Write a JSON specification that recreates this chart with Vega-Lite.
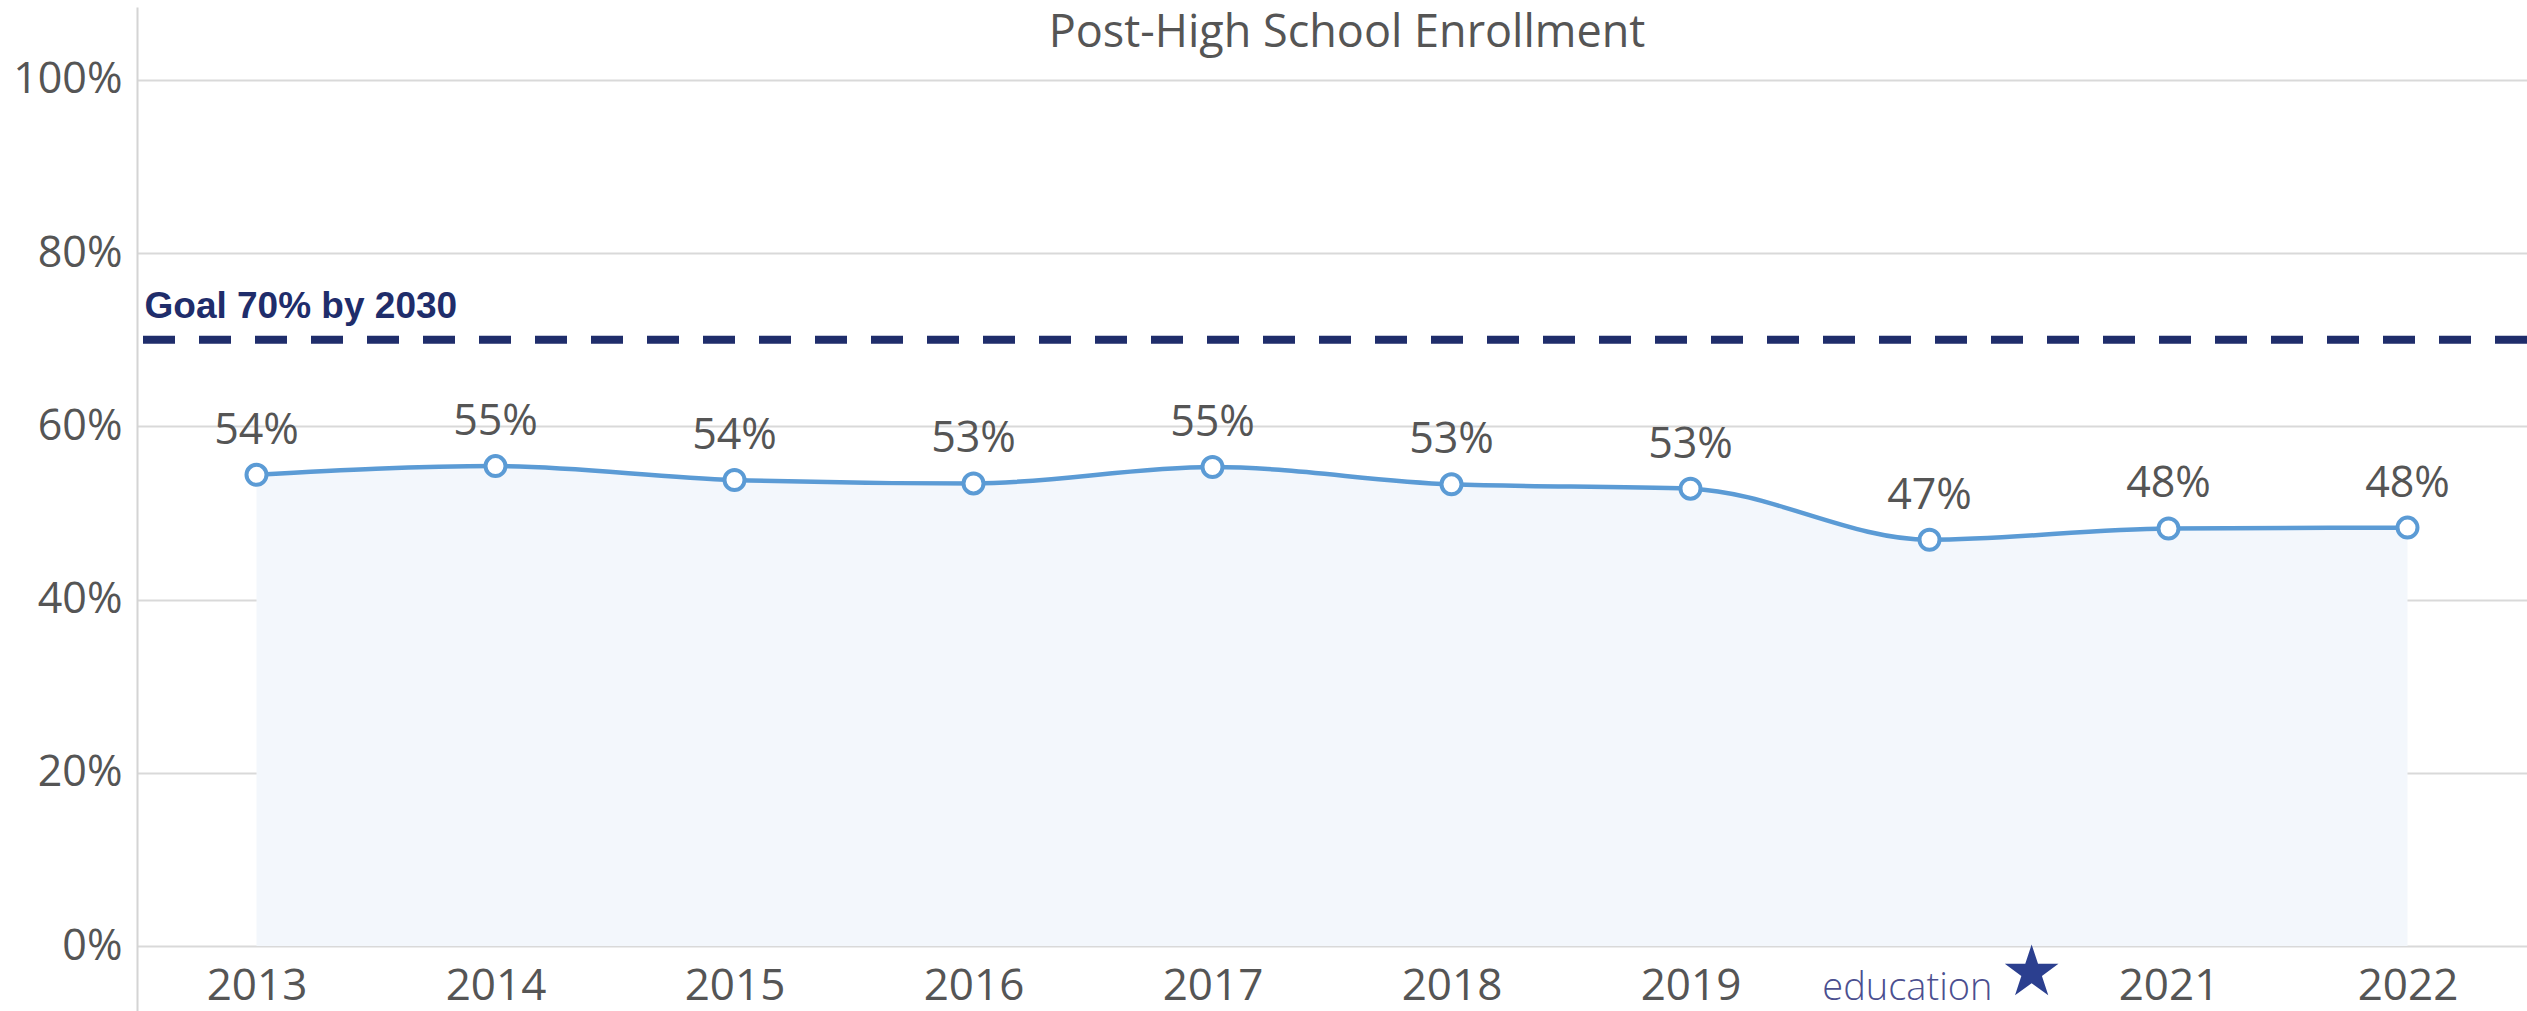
{
  "$schema": "https://vega.github.io/schema/vega-lite/v6.json",
  "width": 2390,
  "height": 1004,
  "autosize": {"type": "none"},
  "padding": {"left": 137, "top": 7, "right": 0, "bottom": 0},
  "background": "white",
  "config": {"view": {"stroke": null}, "font": "Open Sans"},
  "data": {
    "values": [
      {"year": "2013", "value": 0.544},
      {"year": "2014", "value": 0.554},
      {"year": "2015", "value": 0.538},
      {"year": "2016", "value": 0.534},
      {"year": "2017", "value": 0.553},
      {"year": "2018", "value": 0.533},
      {"year": "2019", "value": 0.528},
      {"year": "2020", "value": 0.469},
      {"year": "2021", "value": 0.482},
      {"year": "2022", "value": 0.483}
    ]
  },
  "layer": [
    {
      "mark": {"type": "area", "interpolate": "monotone", "color": "#f3f7fc", "opacity": 1},
      "encoding": {
        "x": {
          "field": "year", "type": "ordinal",
          "scale": {"type": "point", "padding": 0.5},
          "axis": {
            "orient": "bottom", "offset": -65, "domain": false, "ticks": false, "grid": false,
            "labelAngle": 0, "labelFontSize": 44, "labelColor": "#555555", "labelFont": "Open Sans",
            "labelPadding": 18, "title": null,
            "labelExpr": "datum.label == '2020' ? '' : datum.label"
          }
        },
        "y": {
          "field": "value", "type": "quantitative",
          "scale": {"domain": [-0.075, 1.084], "nice": false, "zero": false},
          "axis": {
            "values": [0, 0.2, 0.4, 0.6, 0.8, 1.0], "format": ".0%",
            "grid": true, "gridColor": "#d9d9d9", "gridWidth": 2,
            "domain": true, "domainColor": "#d4d4d4", "domainWidth": 2,
            "ticks": false, "labelPadding": 15, "labelFontSize": 43,
            "labelColor": "#555555", "labelFont": "Open Sans", "title": null
          }
        },
        "y2": {"datum": 0}
      }
    },
    {
      "data": {"values": [{"title": "Post-High School Enrollment"}]},
      "mark": {"type": "text", "font": "Open Sans", "fontSize": 45, "color": "#555555", "align": "center", "baseline": "alphabetic",
        "x": {"expr": "width / 2 + 15"}, "y": 40},
      "encoding": {"text": {"field": "title"}}
    },
    {
      "data": {"values": [{"goal": 0.7, "label": "Goal 70% by 2030"}]},
      "layer": [
        {
          "mark": {"type": "rule", "color": "#1f2d6b", "strokeWidth": 8, "strokeDash": [32, 24]},
          "encoding": {"y": {"field": "goal", "type": "quantitative"}}
        },
        {
          "mark": {"type": "text", "font": "Liberation Sans", "fontWeight": "bold", "fontSize": 37, "color": "#1f2d6b", "align": "left", "baseline": "alphabetic", "dx": -112, "dy": -22},
          "encoding": {
            "x": {"datum": "2013", "type": "ordinal"},
            "y": {"field": "goal", "type": "quantitative"},
            "text": {"field": "label"}
          }
        }
      ]
    },
    {
      "mark": {"type": "line", "interpolate": "monotone", "color": "#5b9bd5", "strokeWidth": 4.5},
      "encoding": {
        "x": {"field": "year", "type": "ordinal"},
        "y": {"field": "value", "type": "quantitative"}
      }
    },
    {
      "mark": {"type": "point", "shape": "circle", "filled": true, "fill": "white", "stroke": "#5b9bd5", "strokeWidth": 4, "size": 400, "opacity": 1},
      "encoding": {
        "x": {"field": "year", "type": "ordinal"},
        "y": {"field": "value", "type": "quantitative"}
      }
    },
    {
      "mark": {"type": "text", "font": "Open Sans", "fontSize": 43, "color": "#555555", "align": "center", "baseline": "alphabetic", "dy": -31},
      "encoding": {
        "x": {"field": "year", "type": "ordinal"},
        "y": {"field": "value", "type": "quantitative"},
        "text": {"field": "value", "type": "quantitative", "format": ".0%"}
      }
    },
    {
      "data": {"values": [{"year": "2020", "base": 0, "logo": "education", "star": "★"}]},
      "layer": [
        {
          "mark": {"type": "text", "font": "Open Sans", "fontSize": 38, "fontWeight": 300, "color": "#4b4f8f", "align": "right", "baseline": "alphabetic", "dx": 63, "dy": 54},
          "encoding": {
            "x": {"field": "year", "type": "ordinal"},
            "y": {"field": "base", "type": "quantitative"},
            "text": {"field": "logo"}
          }
        },
        {
          "mark": {"type": "text", "font": "DejaVu Sans", "fontSize": 70, "color": "#2b3f8f", "align": "center", "baseline": "middle", "dx": 102, "dy": 28},
          "encoding": {
            "x": {"field": "year", "type": "ordinal"},
            "y": {"field": "base", "type": "quantitative"},
            "text": {"field": "star"}
          }
        }
      ]
    }
  ]
}
